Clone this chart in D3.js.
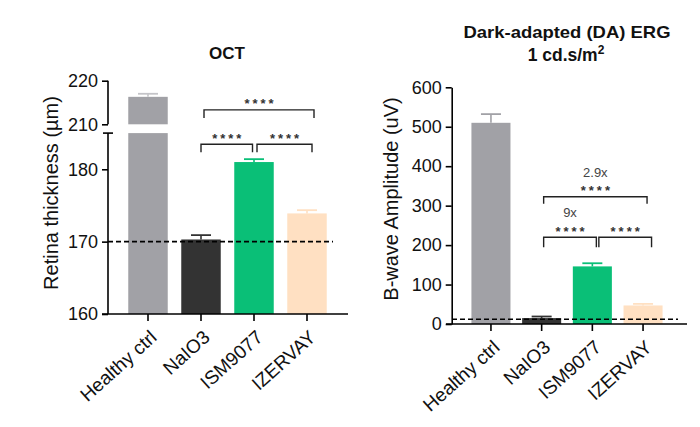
<!DOCTYPE html>
<html><head><meta charset="utf-8">
<script src="https://cdn.jsdelivr.net/npm/d3@7"></script>
<style>
body{margin:0;background:#fff;}
svg text{font-family:"Liberation Sans",Arial,sans-serif;}
</style></head>
<body><svg id="c" width="700" height="427"></svg>
<script>
const categories = ["Healthy ctrl","NaIO3","ISM9077","IZERVAY"];
const colors = ["#a1a1a6","#333333","#0abf77","#ffe0c2"];
const octMean = [216.3, 170.3, 181.0, 173.9];
const octErr  = [0.7, 0.6, 0.4, 0.45];
const octTicksLow = [160,170,180];
const octTicksHigh = [210,220];
const octRef = 170;
const octBrackets = [
  {from:1,to:3,level:213.3,label:"****"},
  {from:1,to:2,level:183.45,label:"****"},
  {from:2,to:3,level:183.45,label:"****"}
];
const ergMean = [510, 15, 146, 47];
const ergErr  = [22, 4, 8, 4];
const ergTicks = [0,100,200,300,400,500,600];
const ergRef = 12;
const ergBrackets = [
  {from:1,to:3,level:322.5,label:"****",fold:"2.9x"},
  {from:1,to:2,level:220,label:"****",fold:"9x"},
  {from:2,to:3,level:220,label:"****"}
];

const svg = d3.select("#c");

function bracket(g, x, y, b, leg, offL, offR){
  const x1 = x(categories[b.from]) + x.bandwidth()/2 + offL;
  const x2 = x(categories[b.to]) + x.bandwidth()/2 + offR;
  const yy = y(b.level);
  g.append("path").attr("d",`M${x1},${yy+leg}V${yy}H${x2}V${yy+leg}`)
    .attr("fill","none").attr("stroke","#222").attr("stroke-width",1.4);
  g.append("text").attr("x",(x1+x2)/2 + 1.5).attr("y",yy-1.5).attr("text-anchor","middle")
    .attr("font-size",13).attr("font-weight","bold").attr("letter-spacing",3).attr("fill","#333").text(b.label);
  if(b.fold){
    g.append("text").attr("x",(x1+x2)/2).attr("y",yy-20).attr("text-anchor","middle")
      .attr("font-size",13).attr("fill","#444").text(b.fold);
  }
}

function xAxis(g, x, yPix, lineX0, lineX1){
  g.append("line").attr("x1",lineX0).attr("x2",lineX1).attr("y1",yPix).attr("y2",yPix)
    .attr("stroke","#000").attr("stroke-width",1.6);
  const ax = g.append("g").attr("transform",`translate(0,${yPix})`)
    .call(d3.axisBottom(x).tickSize(7).tickSizeOuter(0));
  ax.select(".domain").remove();
  ax.selectAll(".tick line").attr("stroke","#000").attr("stroke-width",1.6);
  ax.selectAll(".tick text").attr("font-size",19).attr("fill","#111")
    .attr("text-anchor","end").attr("dy",0).attr("dx",0)
    .attr("transform","translate(10,25) rotate(-42)").attr("y",0).attr("x",0);
}

function bars(g, x, y, means, errs, base, capHalf){
  categories.forEach((c,i)=>{
    const cx = x(c)+x.bandwidth()/2;
    g.append("rect").attr("x",x(c)).attr("width",x.bandwidth())
      .attr("y",y(means[i])).attr("height",y(base)-y(means[i])).attr("fill",colors[i]);
    const yt = y(means[i]+errs[i]);
    g.append("line").attr("x1",cx).attr("x2",cx).attr("y1",y(means[i])).attr("y2",yt)
      .attr("stroke",colors[i]).attr("stroke-width",1.6);
    g.append("line").attr("x1",cx-capHalf).attr("x2",cx+capHalf).attr("y1",yt).attr("y2",yt)
      .attr("stroke",colors[i]).attr("stroke-width",1.8);
  });
}

/* ---------- OCT (broken axis) ---------- */
{
  const g = svg.append("g");
  const x = d3.scaleBand().domain(categories).range([121.5,333.5]).paddingInner(0.255).paddingOuter(0.1275);
  const yLow = d3.scaleLinear().domain([160,185]).range([314,133.1]);
  const yHigh = d3.scaleLinear().domain([210,220]).range([124.3,80.7]);
  const yAny = v => v>=200 ? yHigh(v) : yLow(v);

  const c0 = categories[0];
  g.append("rect").attr("x",x(c0)).attr("width",x.bandwidth()).attr("y",yLow(185))
    .attr("height",yLow(160)-yLow(185)).attr("fill",colors[0]);
  g.append("rect").attr("x",x(c0)).attr("width",x.bandwidth()).attr("y",yHigh(octMean[0]))
    .attr("height",yHigh(210)-yHigh(octMean[0])).attr("fill",colors[0]);
  const cx0 = x(c0)+x.bandwidth()/2, yt0 = yHigh(octMean[0]+octErr[0]);
  g.append("line").attr("x1",cx0).attr("x2",cx0).attr("y1",yHigh(octMean[0])).attr("y2",yt0).attr("stroke","#c4c4c8").attr("stroke-width",1.6);
  g.append("line").attr("x1",cx0-10).attr("x2",cx0+10).attr("y1",yt0).attr("y2",yt0).attr("stroke","#c4c4c8").attr("stroke-width",1.8);

  categories.forEach((c,i)=>{
    if(i===0) return;
    const cx = x(c)+x.bandwidth()/2;
    g.append("rect").attr("x",x(c)).attr("width",x.bandwidth())
      .attr("y",yLow(octMean[i])).attr("height",yLow(160)-yLow(octMean[i])).attr("fill",colors[i]);
    const yt = yLow(octMean[i]+octErr[i]);
    g.append("line").attr("x1",cx).attr("x2",cx).attr("y1",yLow(octMean[i])).attr("y2",yt).attr("stroke",colors[i]).attr("stroke-width",1.6);
    g.append("line").attr("x1",cx-10).attr("x2",cx+10).attr("y1",yt).attr("y2",yt).attr("stroke",colors[i]).attr("stroke-width",1.8);
  });

  g.append("line").attr("x1",108).attr("x2",333).attr("y1",yLow(octRef)).attr("y2",yLow(octRef))
    .attr("stroke","#000").attr("stroke-width",1.6).attr("stroke-dasharray","5,3");

  const axL = g.append("g").attr("transform","translate(108,0)")
    .call(d3.axisLeft(yLow).tickValues(octTicksLow).tickSize(6).tickSizeOuter(0).tickPadding(4));
  const axH = g.append("g").attr("transform","translate(108,0)")
    .call(d3.axisLeft(yHigh).tickValues(octTicksHigh).tickSize(6).tickSizeOuter(0).tickPadding(4));
  [axL,axH].forEach(a=>{
    a.select(".domain").attr("stroke","#000").attr("stroke-width",1.6);
    a.selectAll(".tick line").attr("stroke","#000").attr("stroke-width",1.6);
    a.selectAll(".tick text").attr("font-size",18).attr("fill","#111");
  });
  axH.select(".domain").attr("d",`M0,${yHigh(220)}V${yHigh(210)}`);
  axL.select(".domain").attr("d",`M0,${yLow(160)}V${yLow(185)}`);
  g.append("line").attr("x1",103).attr("x2",113).attr("y1",yLow(185)).attr("y2",yLow(185)).attr("stroke","#000").attr("stroke-width",1.6);

  xAxis(g, x, 314, 102, 348);

  octBrackets.forEach((b,k)=>{
    const offs = [[3,7],[0,-1.5],[3,5]][k];
    bracket(g, x, yAny, b, 8, offs[0], offs[1]);
  });

  g.append("text").attr("x",227).attr("y",59).attr("text-anchor","middle")
    .attr("font-size",17).attr("font-weight","bold").attr("fill","#111").text("OCT");
  g.append("text").attr("transform","translate(58,193) rotate(-90)").attr("text-anchor","middle")
    .attr("font-size",20).attr("fill","#111").text("Retina thickness (µm)");
}

/* ---------- ERG ---------- */
{
  const g = svg.append("g");
  const x = d3.scaleBand().domain(categories).range([465.6,668.4]).paddingInner(0.23).paddingOuter(0.115);
  const y = d3.scaleLinear().domain([0,600]).range([324,87.3]);

  bars(g, x, y, ergMean, ergErr, 0, 10);

  g.append("line").attr("x1",452).attr("x2",678).attr("y1",y(ergRef)).attr("y2",y(ergRef))
    .attr("stroke","#000").attr("stroke-width",1.6).attr("stroke-dasharray","5,3");

  const ay = g.append("g").attr("transform","translate(451.7,0)")
    .call(d3.axisLeft(y).tickValues(ergTicks).tickSize(6).tickSizeOuter(0).tickPadding(4));
  ay.select(".domain").attr("stroke","#000").attr("stroke-width",1.6);
  ay.selectAll(".tick line").attr("stroke","#000").attr("stroke-width",1.6);
  ay.selectAll(".tick text").attr("font-size",18).attr("fill","#111");

  xAxis(g, x, 324, 446, 687);

  ergBrackets.forEach((b,k)=>{
    const offs = [[2,4],[2,4],[6.5,8.5]][k];
    const leg = k===0 ? 7 : 10;
    bracket(g, x, y, b, leg, offs[0], offs[1]);
  });

  g.append("text").attr("x",567).attr("y",37.5).attr("text-anchor","middle")
    .attr("font-weight","bold").attr("fill","#111").attr("font-size",17)
    .attr("textLength",207).attr("lengthAdjust","spacingAndGlyphs").text("Dark-adapted (DA) ERG");
  const t2 = g.append("text").attr("x",566).attr("y",61).attr("text-anchor","middle").attr("font-weight","bold").attr("fill","#111").attr("font-size",17.5);
  t2.append("tspan").text("1 cd.s/m");
  t2.append("tspan").attr("dy",-7).attr("font-size",12).text("2");
  g.append("text").attr("transform","translate(398,199) rotate(-90)").attr("text-anchor","middle")
    .attr("font-size",20).attr("fill","#111").text("B-wave Amplitude (uV)");
}
</script></body></html>
